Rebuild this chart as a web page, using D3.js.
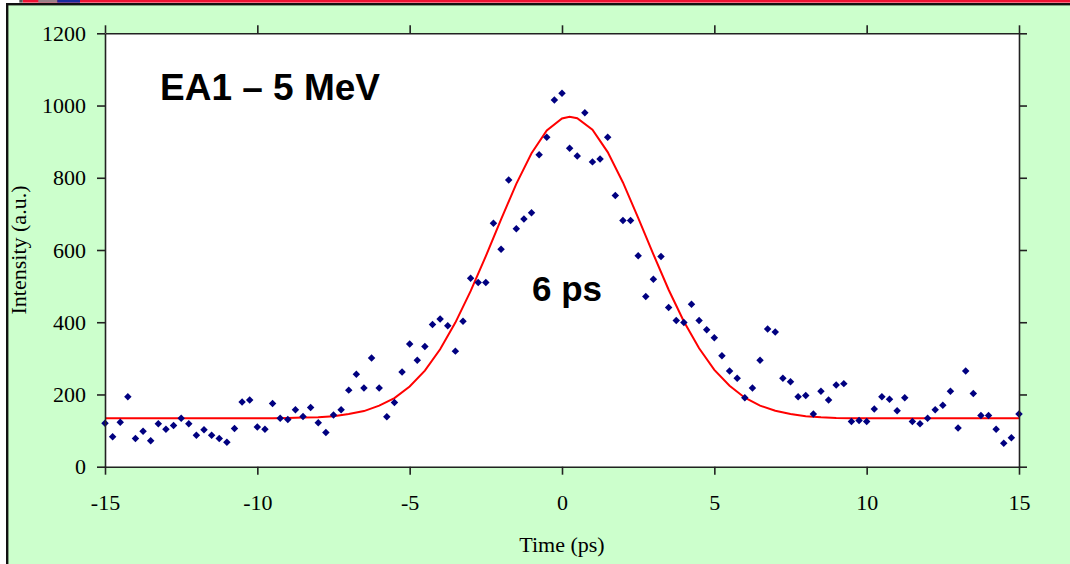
<!DOCTYPE html>
<html><head><meta charset="utf-8">
<script src="https://cdn.jsdelivr.net/npm/d3@7"></script>
<style>html,body{margin:0;padding:0;background:#fff;overflow:hidden}</style>
</head><body><svg id="c" width="1070" height="564"></svg>
<script>
// ---- data ----
const times = [-15,-14.75,-14.5,-14.25,-14,-13.75,-13.5,-13.25,-13,-12.75,-12.5,-12.25,-12,-11.75,-11.5,-11.25,-11,-10.75,-10.5,-10.25,
  -10,-9.75,-9.5,-9.25,-9,-8.75,-8.5,-8.25,-8,-7.75,-7.5,-7.25,-7,-6.75,-6.5,-6.25,-6,-5.75,-5.5,-5.25,
  -5,-4.75,-4.5,-4.25,-4,-3.75,-3.5,-3.25,-3,-2.75,-2.5,-2.25,-2,-1.75,-1.5,-1.25,-1,-0.75,-0.5,-0.25,
  0,0.25,0.5,0.75,1,1.25,1.5,1.75,2,2.25,2.5,2.75,3,3.25,3.5,3.75,4,4.25,4.5,4.75,
  5,5.25,5.5,5.75,6,6.25,6.5,6.75,7,7.25,7.5,7.75,8,8.25,8.5,8.75,9,9.25,9.5,9.75,
  10,10.25,10.5,10.75,11,11.25,11.5,11.75,12,12.25,12.5,12.75,13,13.25,13.5,13.75,14,14.25,14.5,14.75,15];
const intensity = [120,83,123,194,78,98,72,119,104,114,134,119,87,102,87,78,68,106,179,185,
  110,104,175,134,131,158,139,164,122,95,143,158,212,256,218,301,218,138,178,262,
  340,295,333,394,409,390,320,403,522,510,510,674,602,794,659,686,703,864,912,1015,
  1034,882,860,980,844,852,912,751,682,682,584,471,519,582,441,405,399,450,405,379,
  357,307,265,245,191,218,295,381,373,245,235,194,197,146,209,185,226,230,125,128,
  125,160,194,187,155,191,125,119,134,158,170,209,107,265,203,142,142,104,65,80,146];
const fitTimes = [-15,-14.5,-14,-13.5,-13,-12.5,-12,-11.5,-11,-10.5,-10,-9.5,-9,-8.5,-8,-7.5,-7,-6.5,-6,-5.5,
  -5,-4.5,-4,-3.5,-3,-2.5,-2,-1.5,-1,-0.5,0,0.25,0.5,1,1.5,2,2.5,3,3.5,4,
  4.5,5,5.5,6,6.5,7,7.5,8,8.5,9,9.5,10,10.5,11,11.5,12,12.5,13,13.5,14,14.5,15];
const fitValues = [134,134,134,134,134,134,134,134,134,134,134,134,135,136,137,140,146,154,169,190,
  222,266,325,399,486,583,685,783,868,931,964,969,965,933,871,787,689,588,490,402,
  328,268,224,191,169,155,146,140,137,135,134,134,134,134,134,134,134,134,134,134,134,134];
const xTicks = [-15,-10,-5,0,5,10,15];
const yTicks = [0,200,400,600,800,1000,1200];
const xLabel = "Time (ps)";
const yLabel = "Intensity (a.u.)";
const titleText = "EA1 \u2013 5 MeV";
const widthText = "6 ps";

// ---- drawing ----
const svg = d3.select("#c");
const W = 1070, H = 564;
// slide frame
svg.append("rect").attr("x", 8).attr("y", 5).attr("width", W - 8).attr("height", H - 5).attr("fill", "#CCFFCC");
svg.append("rect").attr("x", 22.7).attr("y", 0).attr("width", W - 22.7).attr("height", 2.6).attr("fill", "#EE1133");
svg.append("rect").attr("x", 19.3).attr("y", 0).attr("width", 3.4).attr("height", 2.6).attr("fill", "#555");
svg.append("rect").attr("x", 38.3).attr("y", 0).attr("width", 19).attr("height", 2.6).attr("fill", "#9a7f88");
svg.append("rect").attr("x", 57.3).attr("y", 0).attr("width", 22.7).attr("height", 2.6).attr("fill", "#1a2aa0");
svg.append("rect").attr("x", 6).attr("y", 3).attr("width", W - 6).attr("height", 2.4).attr("fill", "#111");
svg.append("rect").attr("x", 6).attr("y", 3).attr("width", 2.4).attr("height", H - 3).attr("fill", "#111");

const x = d3.scaleLinear().domain([-15, 15]).range([105, 1019]);
const y = d3.scaleLinear().domain([0, 1200]).range([466.7, 33.3]);

svg.append("rect").attr("x", x(-15)).attr("y", y(1200))
  .attr("width", x(15) - x(-15)).attr("height", y(0) - y(1200)).attr("fill", "#fff");

// fit line
const line = d3.line().x((d, i) => x(fitTimes[i])).y(d => y(d));
svg.append("path").datum(fitValues).attr("d", line)
  .attr("fill", "none").attr("stroke", "#FF0000").attr("stroke-width", 2);

// markers
const sym = d3.symbol().type(d3.symbolSquare).size(28)();
svg.append("g").selectAll("path").data(intensity).join("path")
  .attr("d", sym)
  .attr("transform", (d, i) => `translate(${x(times[i])},${y(d)}) rotate(45)`)
  .attr("fill", "#000080");

// axes
const fmt = d => String(d);
const axStyle = g => {
  g.selectAll(".domain").attr("stroke", "#222").attr("stroke-width", 1.6);
  g.selectAll(".tick line").attr("stroke", "#222").attr("stroke-width", 1.6);
  g.selectAll("text").attr("font-family", "'Liberation Serif', 'Times New Roman', serif")
    .attr("font-size", 22).attr("fill", "#000");
};
svg.append("g").attr("transform", `translate(0,${y(0)})`)
  .call(d3.axisBottom(x).tickValues(xTicks).tickSize(8).tickSizeOuter(0).tickPadding(20).tickFormat(fmt))
  .call(axStyle);
svg.append("g").attr("transform", `translate(0,${y(1200)})`)
  .call(d3.axisTop(x).tickValues(xTicks).tickSize(8).tickSizeOuter(0).tickFormat(""))
  .call(axStyle);
svg.append("g").attr("transform", `translate(${x(-15)},0)`)
  .call(d3.axisLeft(y).tickValues(yTicks).tickSize(8).tickSizeOuter(0).tickPadding(11).tickFormat(fmt))
  .call(axStyle);
svg.append("g").attr("transform", `translate(${x(15)},0)`)
  .call(d3.axisRight(y).tickValues(yTicks).tickSize(8).tickSizeOuter(0).tickFormat(""))
  .call(axStyle);

// axis titles
svg.append("text").attr("x", (x(-15) + x(15)) / 2).attr("y", 552)
  .attr("text-anchor", "middle").attr("font-family", "'Liberation Serif', serif").attr("font-size", 22)
  .text(xLabel);
svg.append("text").attr("transform", `translate(26,${(y(0) + y(1200)) / 2}) rotate(-90)`)
  .attr("text-anchor", "middle").attr("font-family", "'Liberation Serif', serif").attr("font-size", 22)
  .text(yLabel);

// annotations
svg.append("text").attr("x", 160).attr("y", 100)
  .attr("font-family", "'Liberation Sans', Arial, sans-serif").attr("font-weight", "bold").attr("font-size", 37)
  .text(titleText);
svg.append("text").attr("x", 532).attr("y", 301)
  .attr("font-family", "'Liberation Sans', Arial, sans-serif").attr("font-weight", "bold").attr("font-size", 35)
  .text(widthText);
</script></body></html>
